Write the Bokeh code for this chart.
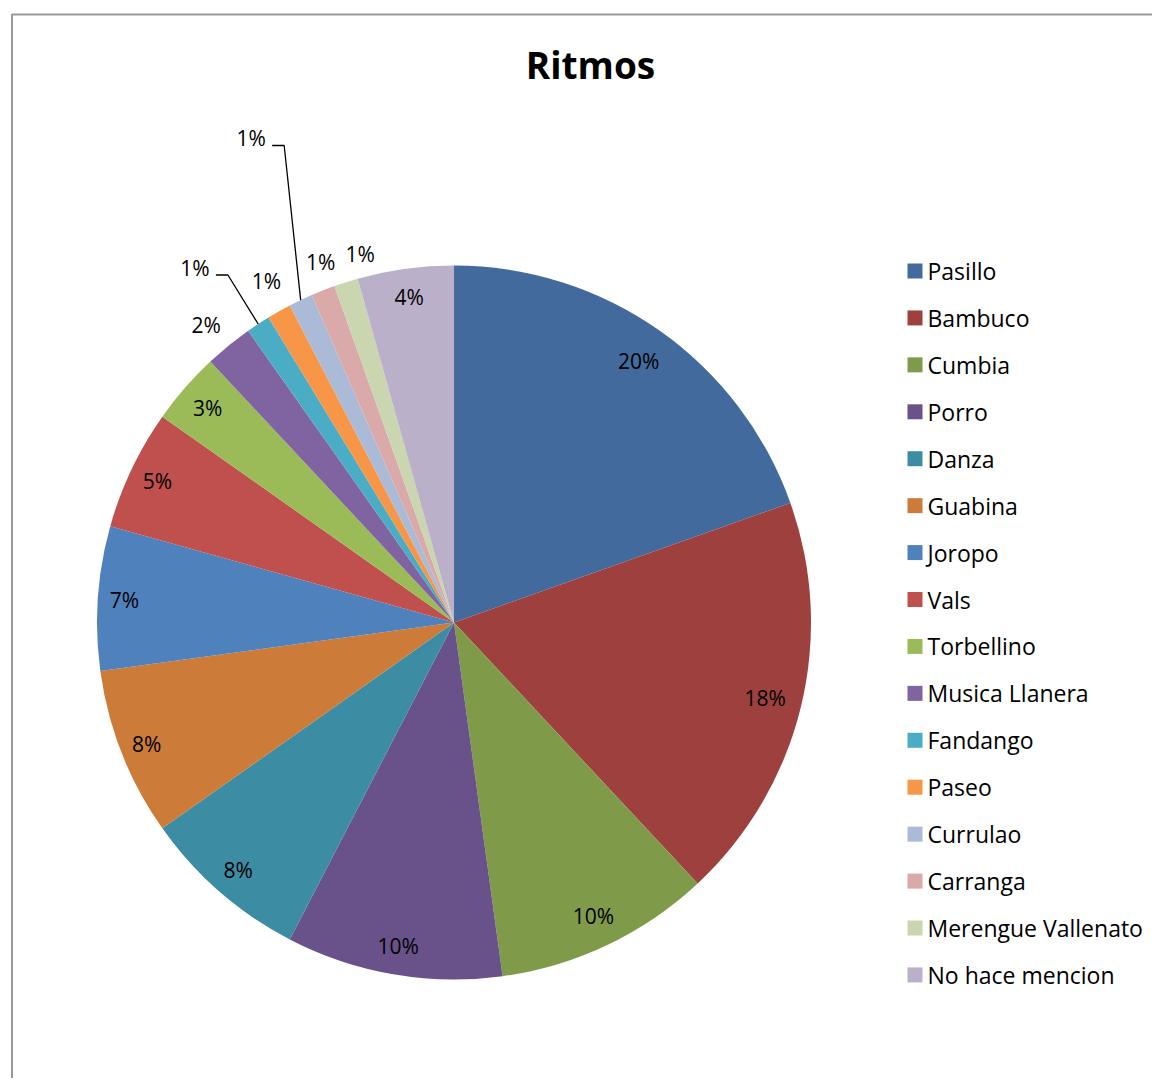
import math
from bokeh.plotting import figure
from bokeh.models import Range1d, ColumnDataSource
from bokeh.core.properties import value
from bokeh.embed import file_html
from bokeh.resources import INLINE

# ---------------- data ----------------
categories = ["Pasillo", "Bambuco", "Cumbia", "Porro", "Danza", "Guabina", "Joropo",
              "Vals", "Torbellino", "Musica Llanera", "Fandango", "Paseo", "Currulao",
              "Carranga", "Merengue Vallenato", "No hace mencion"]
counts = [18, 17, 9, 9, 7, 7, 6, 5, 3, 2, 1, 1, 1, 1, 1, 4]
title_text = "Ritmos"

# ---------------- style ----------------
colors = ["#426A9C", "#9E413E", "#7F9A48", "#695189", "#3C8DA3", "#CC7B38", "#4F81BD",
          "#C0504D", "#9BBB59", "#8064A2", "#4BACC6", "#F79646", "#AABAD7",
          "#D9AAA9", "#C9D6AF", "#BAB0C9"]
# label radius (multiples of pie radius) and angular nudge (deg) per slice
label_r = [0.897, 0.897, 0.91, 0.92, 0.92, 0.925, 0.925, 0.92, 0.915, 1.084, 1.23,
           1.092, 1.47, 1.076, 1.064, 0.92]
label_da = [0, 0, 0, 0, 0, 0, 0, 0, 0, -0.7, -2.9, 0.6, 2.7, 1.2, 3.3, 0]
leader = [False] * 10 + [True, False, True] + [False] * 3

W, H = 1152, 1078
FONT = "Open Sans"


def to_data(sx, sy):
    # screen pixel -> data coords (y up)
    return sx, H - sy


cx, cy = to_data(453.5, 622)
R = 357

p = figure(width=W, height=H, output_backend="svg", toolbar_location=None,
           x_axis_location=None, y_axis_location=None, min_border=0,
           x_range=Range1d(0, W), y_range=Range1d(0, H))
p.grid.visible = False
p.outline_line_color = None
p.background_fill_color = "white"

total = sum(counts)
starts, ends, mids = [], [], []
acc = 0
for c in counts:
    a0 = acc / total * 2 * math.pi
    acc += c
    a1 = acc / total * 2 * math.pi
    # clockwise from 12 o'clock -> bokeh angle (ccw from +x)
    starts.append(math.pi / 2 - a1)
    ends.append(math.pi / 2 - a0)
    mids.append((a0 + a1) / 2)

src = ColumnDataSource(dict(start=starts, end=ends, color=colors))
p.wedge(x=cx, y=cy, radius=R, start_angle="start", end_angle="end",
        fill_color="color", line_color=None, source=src)

# percentage labels
lx, ly, lt = [], [], []
for i, c in enumerate(counts):
    th = mids[i] + math.radians(label_da[i])
    r = label_r[i] * R
    x = cx + r * math.sin(th)
    y = cy + r * math.cos(th)
    lx.append(x)
    ly.append(y)
    lt.append(f"{round(100 * c / total)}%")
    if leader[i]:
        ex = cx + R * math.sin(mids[i])
        ey = cy + R * math.cos(mids[i])
        x0 = x + 21
        x1 = x + 33
        yl = y - 7
        p.line([x0, x1, ex], [yl, yl, ey], line_color="black", line_width=1.3)

p.text(x=lx, y=ly, text=lt, text_align="center", text_baseline="middle",
       text_font=value(FONT), text_font_size="21px", text_color="black")

# title
tx, ty = to_data(590, 64)
p.text(x=[tx], y=[ty], text=[title_text], text_align="center", text_baseline="middle",
       text_font=value(FONT), text_font_size="37px", text_font_style="bold",
       text_color="black")

# legend
leg_x, leg_y0, leg_dy = 914.5, 270.5, 46.93
sq_x, sq_y, tx_x, tx_y = [], [], [], []
for i in range(len(categories)):
    x, y = to_data(leg_x, leg_y0 + i * leg_dy)
    sq_x.append(x)
    sq_y.append(y)
    tx_x.append(x + 12.5)
    tx_y.append(y)
p.scatter(x=sq_x, y=sq_y, marker="square", size=15, fill_color=colors, line_color=None)
p.text(x=tx_x, y=tx_y, text=categories, text_align="left", text_baseline="middle",
       text_font=value(FONT), text_font_size="23px", text_color="black")

# chart area border (top and left visible)
bx, by = to_data(11.5, 14)
p.line([bx, bx, W + 5], [-5, by, by], line_color="#9A9A9A", line_width=2)

open("out.html", "w").write(file_html(p, INLINE))
